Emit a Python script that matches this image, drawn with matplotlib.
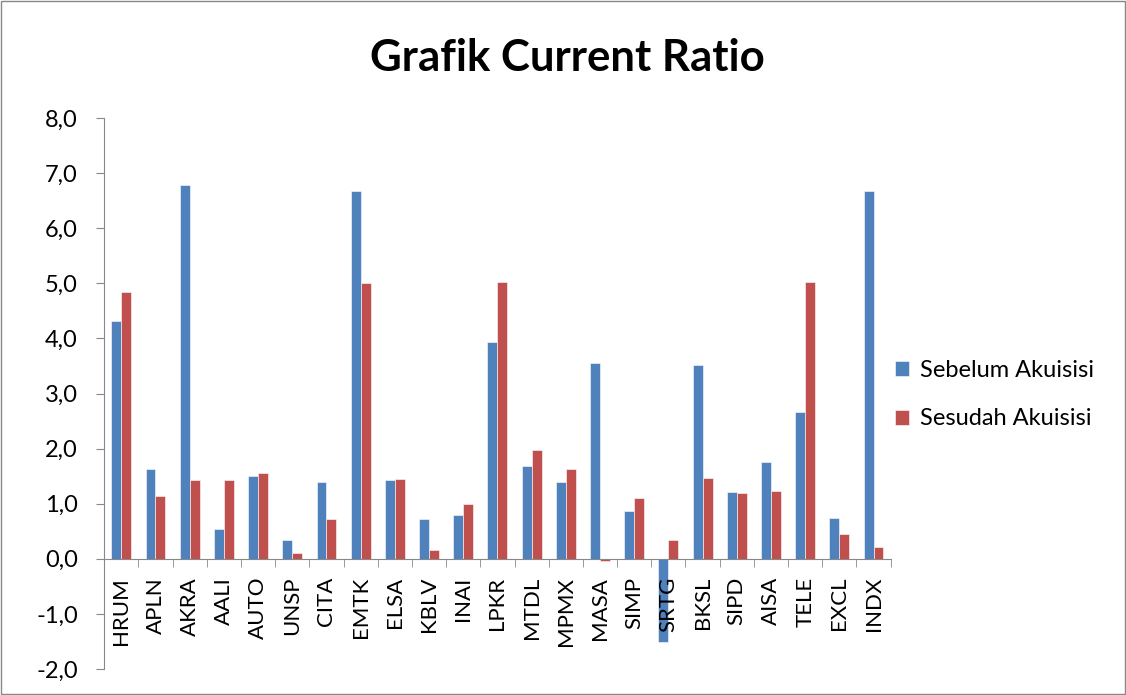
import numpy as np
import matplotlib.pyplot as plt
from matplotlib.patches import Rectangle

plt.rcParams['font.family'] = ['Lato', 'DejaVu Sans']

emiten = ["HRUM", "APLN", "AKRA", "AALI", "AUTO", "UNSP", "CITA", "EMTK", "ELSA", "KBLV",
          "INAI", "LPKR", "MTDL", "MPMX", "MASA", "SIMP", "SRTG", "BKSL", "SIPD", "AISA",
          "TELE", "EXCL", "INDX"]
sebelum = [4.31, 1.63, 6.79, 0.54, 1.51, 0.34, 1.40, 6.67, 1.43, 0.72,
           0.79, 3.94, 1.68, 1.39, 3.55, 0.87, -1.51, 3.52, 1.22, 1.76,
           2.66, 0.75, 6.67]
sesudah = [4.85, 1.14, 1.43, 1.43, 1.56, 0.11, 0.72, 5.00, 1.45, 0.16,
           1.00, 5.03, 1.97, 1.63, -0.04, 1.11, 0.34, 1.47, 1.19, 1.23,
           5.02, 0.45, 0.22]

fig = plt.figure(figsize=(11.26, 6.95), dpi=100)
ax = fig.add_axes([0.0925, 0.0374, 0.6985, 0.7926])

x = np.arange(len(emiten))
w = 0.29
ax.bar(x - w / 2, sebelum, w, color="#4F81BD", edgecolor="white", linewidth=0.4,
       label="Sebelum Akuisisi")
ax.bar(x + w / 2, sesudah, w, color="#C0504D", edgecolor="white", linewidth=0.4,
       label="Sesudah Akuisisi")

ax.set_xlim(-0.5, len(emiten) - 0.5)
ax.set_ylim(-2, 8)
ax.set_yticks(np.arange(-2, 9, 1))
ax.set_yticklabels([f"{v:.1f}".replace(".", ",") for v in np.arange(-2, 9, 1)])

for s in ["top", "right"]:
    ax.spines[s].set_visible(False)
ax.spines["bottom"].set_position(("data", 0))
ax.spines["bottom"].set_color("#888888")
ax.spines["left"].set_color("#888888")

ax.set_xticks(x)
ax.set_xticklabels(emiten, rotation=90, fontsize=16)
ax.set_xticks(np.arange(-0.5, len(emiten), 1), minor=True)
ax.tick_params(axis="x", which="major", length=0, pad=13)
ax.tick_params(axis="x", which="minor", length=6, color="#888888", direction="out")
ax.tick_params(axis="y", length=6, color="#888888", labelsize=17, pad=13)

fig.text(0.504, 0.916, "Grafik Current Ratio", ha="center", va="center",
         fontsize=31.5, fontweight="bold")

fig.legend(loc="center left", bbox_to_anchor=(0.776, 0.432), frameon=False,
           fontsize=17, handlelength=0.6, handleheight=0.6, handletextpad=0.45,
           labelspacing=1.15)

fig.patches.append(Rectangle((0.001, 0.001), 0.998, 0.998, transform=fig.transFigure,
                             fill=False, edgecolor="#888888", linewidth=1))

fig.savefig("out.png", dpi=100)
